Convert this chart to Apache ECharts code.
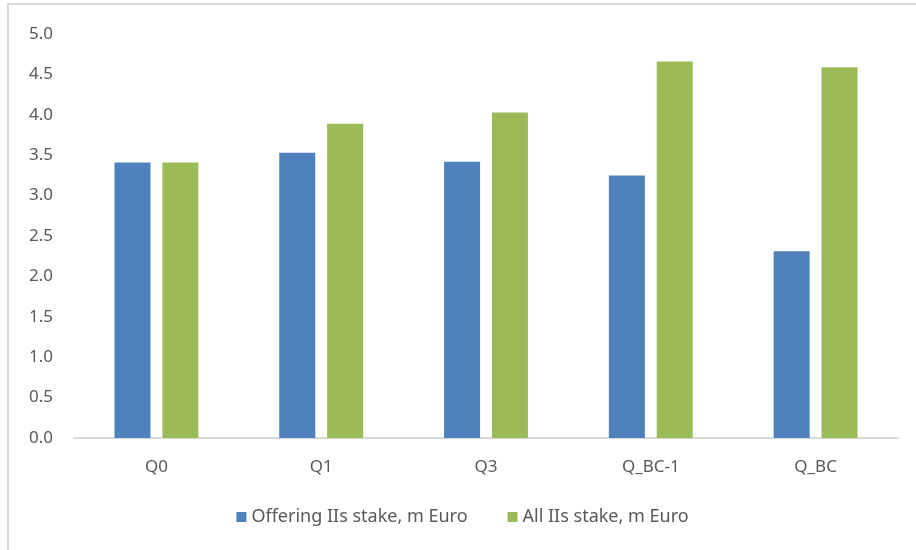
<!DOCTYPE html>
<html>
<head>
<meta charset="utf-8">
<script src="https://cdn.jsdelivr.net/npm/echarts@6/dist/echarts.min.js"></script>
<style>
    html, body { margin: 0; padding: 0; background: #fff; }
    #main {
        position: absolute; left: 7px; top: 3px;
        width: 909px; height: 547px;
        border-left: 2px solid #d9d9d9;
        border-top: 2px solid #d9d9d9;
        box-sizing: border-box;
    }
</style>
</head>
<body>
<div id="main"></div>
<script>
// 分类和数据
var categories = ['Q0', 'Q1', 'Q3', 'Q_BC-1', 'Q_BC'];
var offeringStake = [3.41, 3.53, 3.42, 3.25, 2.31];
var allStake = [3.41, 3.89, 4.03, 4.66, 4.59];
var seriesNames = ['Offering IIs stake, m Euro', 'All IIs stake, m Euro'];

var font = '"Noto Sans", "Liberation Sans", sans-serif';

function initChart() {
    var myChart = echarts.init(document.getElementById('main'));
    var option = {
        animation: false,
        textStyle: { fontFamily: font },
        grid: { left: 65, right: 18, top: 29, bottom: 112 },
        legend: {
            bottom: 19,
            left: 'center',
            itemWidth: 10,
            itemHeight: 10,
            itemGap: 40,
            icon: 'rect',
            textStyle: { fontSize: 18, color: '#595959', fontFamily: font },
            data: seriesNames
        },
        xAxis: {
            type: 'category',
            data: categories,
            axisLine: { lineStyle: { color: '#d9d9d9', width: 2 } },
            axisTick: { show: false },
            axisLabel: { fontSize: 17, color: '#595959', margin: 21, fontFamily: font }
        },
        yAxis: {
            type: 'value',
            min: 0,
            max: 5,
            interval: 0.5,
            splitLine: { show: false },
            axisLine: { show: false },
            axisTick: { show: false },
            axisLabel: {
                fontSize: 17, color: '#595959', margin: 21, fontFamily: font,
                formatter: function (v) { return v.toFixed(1); }
            }
        },
        series: [{
            name: seriesNames[0],
            type: 'bar',
            data: offeringStake,
            barWidth: 36,
            barGap: '33%',
            itemStyle: { color: '#4f81bd' }
        }, {
            name: seriesNames[1],
            type: 'bar',
            data: allStake,
            barWidth: 36,
            itemStyle: { color: '#9bbb59' }
        }]
    };
    myChart.setOption(option);
}
initChart();
</script>
</body>
</html>
